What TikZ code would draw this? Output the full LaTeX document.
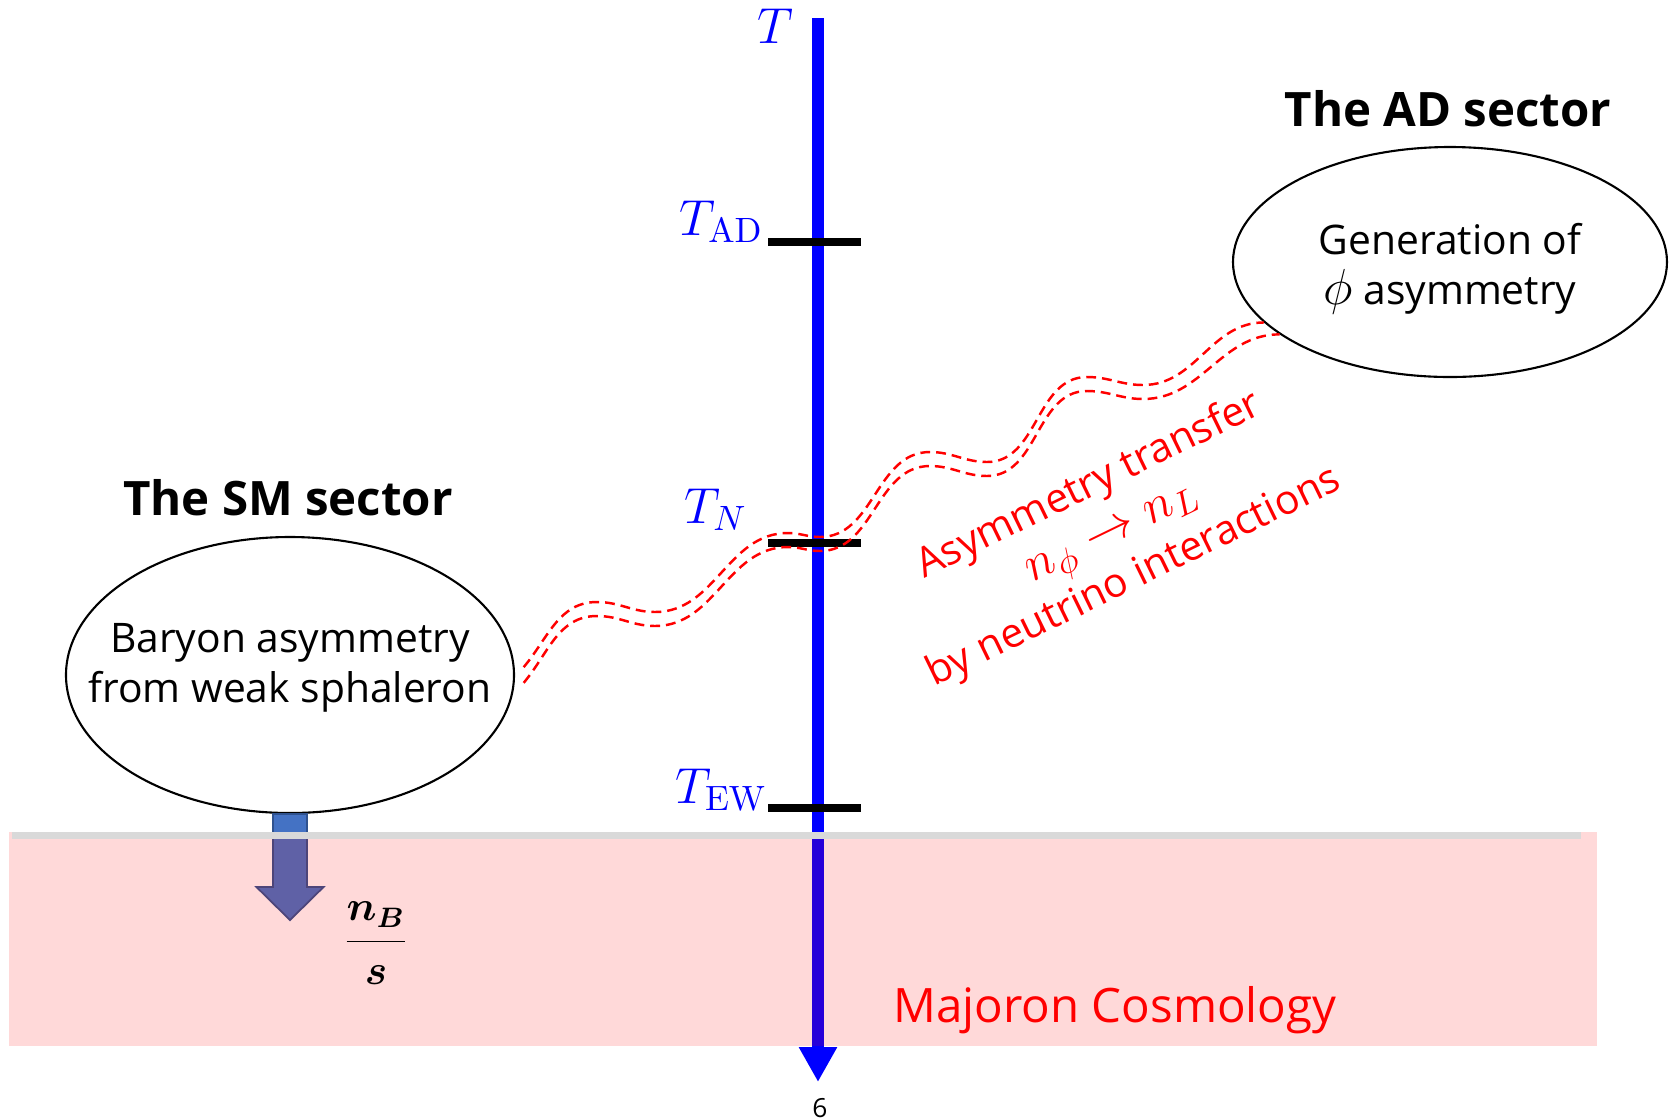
\documentclass[tikz,border=0pt]{standalone}
\usepackage{amsmath}
\usepackage[no-math]{fontspec}
\setmainfont{Open Sans}
\usepackage{tikz}
\usetikzlibrary{arrows.meta,shapes.geometric}
\definecolor{pptblue}{RGB}{68,114,196}
\definecolor{pptline}{RGB}{47,82,143}
\newcommand{\bigmath}{\fontsize{14.4}{14.5}\selectfont}

\begin{document}
\begin{tikzpicture}[>=Triangle,
  bubble/.style={ellipse,draw,line width=0.6pt,inner sep=0pt},
  btext/.style={align=center,font=\fontsize{11.6}{14.2}\selectfont},
  sector/.style={font=\fontsize{13.5}{16}\selectfont\bfseries},
  tick/.style={line width=0.08cm},
  tlab/.style={blue,inner sep=0pt,font=\fontsize{14.4}{17}\selectfont},
  wave/.style={red,line width=0.7pt,dash pattern=on 2.8pt off 1.7pt}]
  \useasboundingbox (0,0) rectangle (16.73,-11.19);
  % temperature axis
  \draw[blue,line width=0.12cm,-{Triangle[length=0.35cm,width=0.36cm]}] (8.18,-0.18) -- (8.18,-10.82);
  \node[tlab] (tT) at (7.75,-0.26) {$T$};
  \draw[tick] (7.68,-2.42) -- (8.61,-2.42);
  \draw[tick] (7.68,-5.43) -- (8.61,-5.43);
  \draw[tick] (7.68,-8.08) -- (8.61,-8.08);
  \node[tlab,anchor=base east] (tAD) at (7.64,-2.35) {$T_{\mathrm{AD}}$};
  \node[tlab,anchor=base east] (tN) at (7.48,-5.23) {$T_N$};
  \node[tlab,anchor=base east] (tEW) at (7.68,-8.03) {$T_{\mathrm{EW}}$};
  % the two sectors
  \node[sector] (smt) at (2.88,-4.98) {The SM sector};
  \node[bubble,minimum width=4.48cm,minimum height=2.76cm] (sm) at (2.90,-6.75) {};
  \node[btext] (smtxt) at ([yshift=0.07cm]sm.center) {Baryon asymmetry\\from weak sphaleron};
  \node[sector] (adt) at (14.48,-1.085) {The AD sector};
  \node[bubble,minimum width=4.34cm,minimum height=2.30cm] (ad) at (14.50,-2.62) {};
  \node[btext] (adtxt) at ([yshift=-0.07cm]ad.center) {Generation of\\{\bigmath$\phi$} asymmetry};
  % asymmetry transfer
  \coordinate (h1) at (5.97,-6.02);
  \coordinate (d1) at (6.55,-6.12);
  \coordinate (h2) at (7.88,-5.33);
  \coordinate (d2) at (8.20,-5.37);
  \coordinate (h3) at (9.30,-4.52);
  \coordinate (d3) at (9.87,-4.62);
  \coordinate (h4) at (10.87,-3.77);
  \coordinate (d4) at (11.43,-3.85);
  \foreach \dy/\as/\ae in {0/2/198,-0.14/358/203}
    \draw[wave] ([xshift=0.09cm]sm.\as) to[out=50,in=180] ([yshift=\dy cm]h1)
      to[out=0,in=180] ([yshift=\dy cm]d1) to[out=0,in=180] ([yshift=\dy cm]h2)
      to[out=0,in=180] ([yshift=\dy cm]d2) to[out=0,in=180] ([yshift=\dy cm]h3)
      to[out=0,in=180] ([yshift=\dy cm]d3) to[out=0,in=180] ([yshift=\dy cm]h4)
      to[out=0,in=180] ([yshift=\dy cm]d4) to[out=0,in=180] (ad.\ae);
  \node[red,rotate=26,align=center,font=\fontsize{11.6}{14.5}\selectfont] (xfer) at (11.12,-5.32) {Asymmetry transfer\\{\bigmath$n_\phi\to n_L$}\\by neutrino interactions};
  % baryon asymmetry output
  \draw[fill=pptblue,draw=pptline,line width=0.5pt] ([xshift=-0.17cm]sm.south) -- ++(0,-0.73) -- ++(-0.165,0) -- ++(0.335,-0.33) -- ++(0.335,0.33) -- ++(-0.165,0) -- ++(0,0.73) -- cycle;
  % Majoron cosmology era
  \fill[red,fill opacity=0.15] (0.09,-8.32) rectangle (15.97,-10.46);
  \draw[gray!30,line width=0.07cm] (0.12,-8.355) -- (15.81,-8.355);
  \node[font=\fontsize{12}{14}\selectfont] (nbs) at (3.76,-9.43) {$\boldsymbol{\dfrac{n_B}{s}}$};
  \node[red,font=\fontsize{13.5}{16}\selectfont] (maj) at (11.15,-10.10) {Majoron Cosmology};
  \node[font=\fontsize{7.5}{9}\selectfont] (pg) at (8.20,-11.08) {6};
\end{tikzpicture}
\end{document}
